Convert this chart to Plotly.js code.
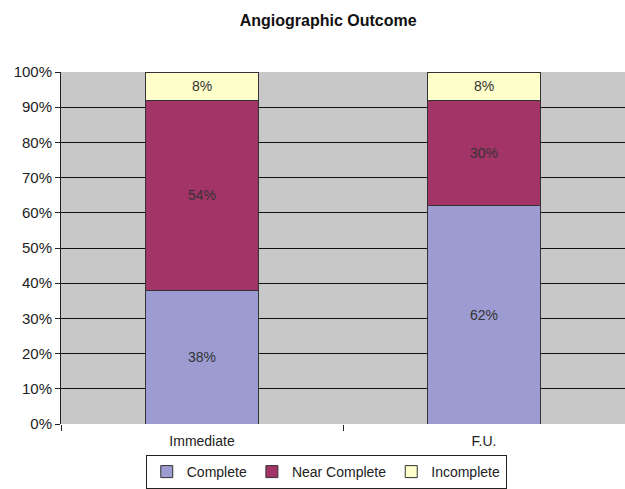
<!DOCTYPE html>
<html><head><meta charset="utf-8">
<script src="https://cdn.plot.ly/plotly-3.0.1.min.js"></script>
<style>html,body{margin:0;padding:0;background:#fff}</style>
</head><body>
<div id="chart" style="width:625px;height:489px"></div>
<script>
const categories = ["Immediate", "F.U."];
const complete = [38, 62];
const nearComplete = [54, 30];
const incomplete = [8, 8];
const tickVals = [0,10,20,30,40,50,60,70,80,90,100];
const tickText = tickVals.map(v => v + "%");

function trace(name, vals, color) {
  return {
    type: "bar", name: name, x: categories, y: vals,
    marker: {color: color, line: {color: "#333", width: 1}},
    text: vals.map(v => v + "%"), textposition: "inside", insidetextanchor: "middle",
    textfont: {family: "Arial, Liberation Sans, sans-serif", size: 14, color: "#333"},
    width: 0.4, hoverinfo: "none"
  };
}
const data = [
  trace("Complete", complete, "#9c9cd2"),
  trace("Near Complete", nearComplete, "#a33468"),
  trace("Incomplete", incomplete, "#ffffcc")
];
const layout = {
  width: 625, height: 489,
  margin: {l: 61, r: 0, t: 72, b: 65, autoexpand: false},
  barmode: "stack",
  paper_bgcolor: "#fff", plot_bgcolor: "#c8c8c8",
  font: {family: "Arial, Liberation Sans, sans-serif", size: 14, color: "#222"},
  title: {text: "<b>Angiographic Outcome</b>", x: 0.525, xanchor: "center", y: 0.958, yanchor: "middle",
          font: {size: 16, color: "#111"}},
  xaxis: {type: "category", tickson: "boundaries", ticks: "outside", ticklen: 6, tickcolor: "#222",
          showgrid: false, showline: false, ticklabelstandoff: 7, tickfont: {size: 14, color: "#222"}},
  yaxis: {range: [0, 100], tickvals: tickVals, ticktext: tickText, ticks: "outside", ticklen: 5,
          tickcolor: "#222", showgrid: true, gridcolor: "#111", gridwidth: 1,
          showline: true, linecolor: "#222", linewidth: 1, zeroline: false,
          tickfont: {size: 15, color: "#222"}},
  legend: {orientation: "h", xref: "container", x: 0.522, xanchor: "center", yref: "container", y: 0, yanchor: "bottom",
           bordercolor: "#222", borderwidth: 1, bgcolor: "#fff",
           font: {size: 14, color: "#222"}, traceorder: "normal", itemwidth: 30,
           tracegroupgap: 0}
};
Plotly.newPlot("chart", data, layout, {displayModeBar: false, staticPlot: true});
</script>
</body></html>
